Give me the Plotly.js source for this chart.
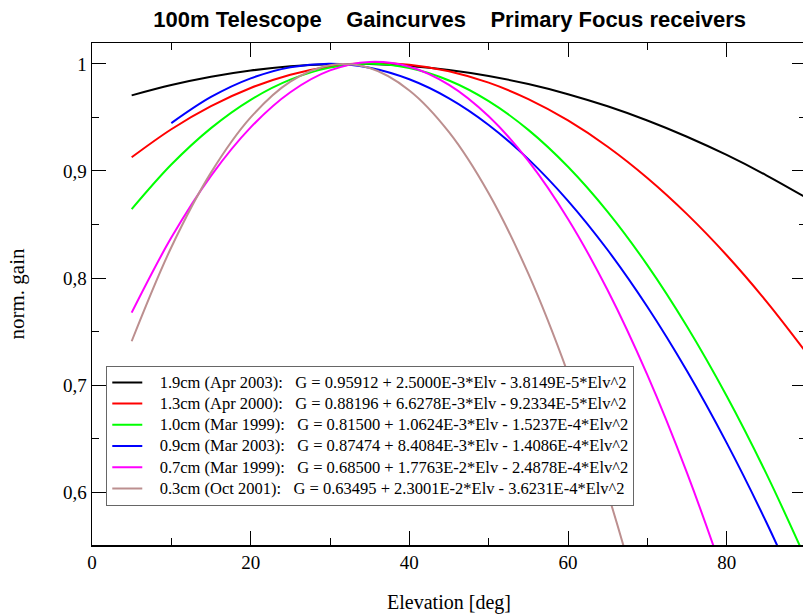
<!DOCTYPE html>
<html><head><meta charset="utf-8">
<script src="https://cdn.plot.ly/plotly-3.0.1.min.js"></script>
<style>html,body{margin:0;padding:0;overflow:hidden;background:#fff}#c{width:812px;height:616px}</style>
</head><body><div id="c"></div>
<script>
// Elevation grid (deg)
const elev = [5,10,15,20,25,30,35,40,45,50,55,60,65,70,75,80,85,90];
const elevBlue = [10,15,20,25,30,35,40,45,50,55,60,65,70,75,80,85,90];
// normalised gain
const g19 = [0.97067,0.98031,0.98804,0.99386,0.99778,0.99979,0.99989,0.99808,0.99437,0.98875,0.98122,0.97178,0.96044,0.94719,0.93203,0.91497,0.89599,0.87511];
const g13 = [0.91279,0.93900,0.96060,0.97758,0.98995,0.99769,1.00082,0.99934,0.99324,0.98252,0.96718,0.94723,0.92266,0.89347,0.85967,0.82125,0.77821,0.73056];
const g10 = [0.86431,0.90600,0.94008,0.96653,0.98537,0.99659,1.00019,0.99617,0.98453,0.96528,0.93840,0.90391,0.86180,0.81207,0.75472,0.68975,0.61717,0.53696];
const g09 = [0.94474,0.96917,0.98656,0.99691,1.00022,0.99648,0.98570,0.96788,0.94301,0.91110,0.87215,0.82615,0.77311,0.71303,0.64591,0.57174,0.49053];
const g07 = [0.76760,0.83775,0.89547,0.94075,0.97359,0.99399,1.00195,0.99747,0.98056,0.95120,0.90941,0.85517,0.78850,0.70939,0.61784,0.51385,0.39960,0.27510];
const g03 = [0.74090,0.82873,0.89845,0.95005,0.98353,0.99890,0.99616,0.97529,0.93632,0.87923,0.80402,0.71069,0.59926,0.46970,0.32203,0.15625,-0.02765,-0.22966];
const names = [
 "1.9cm (Apr 2003):&nbsp;&nbsp;&nbsp;G = 0.95912 + 2.5000E-3*Elv - 3.8149E-5*Elv^2",
 "1.3cm (Apr 2000):&nbsp;&nbsp;&nbsp;G = 0.88196 + 6.6278E-3*Elv - 9.2334E-5*Elv^2",
 "1.0cm (Mar 1999):&nbsp;&nbsp;&nbsp;G = 0.81500 + 1.0624E-3*Elv - 1.5237E-4*Elv^2",
 "0.9cm (Mar 2003):&nbsp;&nbsp;&nbsp;G = 0.87474 + 8.4084E-3*Elv - 1.4086E-4*Elv^2",
 "0.7cm (Mar 1999):&nbsp;&nbsp;&nbsp;G = 0.68500 + 1.7763E-2*Elv - 2.4878E-4*Elv^2",
 "0.3cm (Oct 2001):&nbsp;&nbsp;&nbsp;G = 0.63495 + 2.3001E-2*Elv - 3.6231E-4*Elv^2"
];
const colors = ["#000000","#ff0000","#00ff00","#0000ff","#ff00ff","#bc8f8f"];
const xs = [elev, elev, elev, elevBlue, elev, elev];
const ys = [g19, g13, g10, g09, g07, g03];

const traces = ys.map((y,i)=>({
  x: xs[i], y: y, name: '<span style="font-size:16.5px">&nbsp;&nbsp;&nbsp;' + names[i] + '</span>', type:'scatter', mode:'lines',
  line:{color:colors[i], width:2, shape:'spline', smoothing:1}
}));

const serif = '"Liberation Serif", "Times New Roman", serif';
const tickFont = {family:serif, size:19, color:'#000'};
const layout = {
  width:812, height:616,
  margin:{l:92, r:6, t:43, b:71},
  paper_bgcolor:'#fff', plot_bgcolor:'#fff',
  separators:',.',
  title:{text:'100m Telescope&nbsp;&nbsp;&nbsp;&nbsp;Gaincurves&nbsp;&nbsp;&nbsp;&nbsp;Primary Focus receivers',
    font:{family:'"Liberation Sans", Arial, sans-serif', size:22, color:'#000', weight:'bold'},
    x:0.501, xref:'paper', xanchor:'center', y:0.969, yanchor:'middle'},
  xaxis:{range:[0,90], showgrid:false, zeroline:false, showline:true, linecolor:'#000', linewidth:1.5, mirror:'allticks',
    ticks:'inside', ticklen:14, tickwidth:1, tickcolor:'#000',
    tickvals:[0,20,40,60,80],
    minor:{ticks:'inside', ticklen:7, tickwidth:1, tickcolor:'#000', tickvals:[10,30,50,70]},
    tickfont:tickFont,
    title:{text:'Elevation [deg]', font:{family:serif, size:20, color:'#000'}, standoff:22}},
  yaxis:{range:[0.5505,1.0196], showgrid:false, zeroline:false, showline:true, linecolor:'#000', linewidth:1.5, mirror:'allticks',
    ticks:'inside', ticklen:14, tickwidth:1, tickcolor:'#000', tickvals:[0.6,0.7,0.8,0.9,1],
    minor:{ticks:'inside', ticklen:7, tickwidth:1, tickcolor:'#000', tickvals:[0.65,0.75,0.85,0.95]},
    tickfont:tickFont,
    title:{text:'norm. gain', font:{family:serif, size:21, color:'#000'}, standoff:32}},
  showlegend:true,
  legend:{x:0.02, y:0.357, xanchor:'left', yanchor:'top', bgcolor:'#fff', bordercolor:'#666', borderwidth:1,
    font:{family:serif, size:14, color:'#000'}, tracegroupgap:0, itemwidth:30}
};
Plotly.newPlot('c', traces, layout, {displayModeBar:false, staticPlot:true});
</script></body></html>
